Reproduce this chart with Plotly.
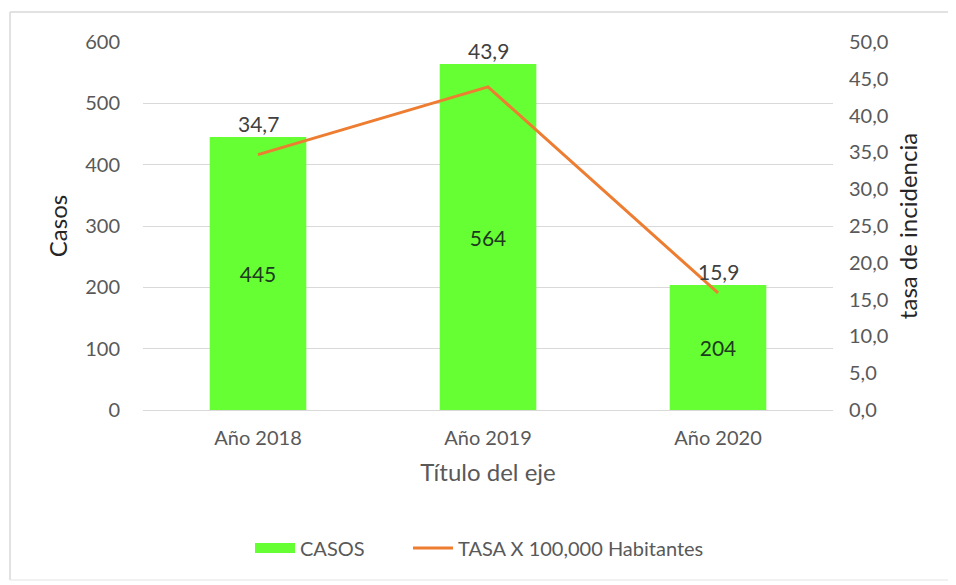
import plotly.graph_objects as go

categorias = ["Año 2018", "Año 2019", "Año 2020"]
casos = [445, 564, 204]
tasa = [34.7, 43.9, 15.9]
left_ticks = [0, 100, 200, 300, 400, 500, 600]
right_ticks = [0, 5, 10, 15, 20, 25, 30, 35, 40, 45, 50]

def fmt(v):
    return f"{v:.1f}".replace(".", ",")

FONT = "Lato, 'Open Sans', sans-serif"
GREY = "#595959"
GREEN = "#66FF33"
ORANGE = "#ED7D31"

fig = go.Figure()
fig.add_trace(go.Bar(
    x=categorias, y=casos, name="CASOS", showlegend=False,
    marker=dict(color=GREEN, line=dict(width=0)),
    width=0.42,
    text=[str(c) for c in casos], textposition="inside", insidetextanchor="middle",
    textfont=dict(size=21, color="#1e3a1e", family=FONT),
    yaxis="y",
))
# legend swatch for the bars (wide block, like the original)
fig.add_trace(go.Scatter(
    x=[categorias[0]], y=[None], name="CASOS", mode="lines",
    line=dict(color=GREEN, width=12), yaxis="y", hoverinfo="skip",
    legend="legend",
))
fig.add_trace(go.Scatter(
    x=categorias, y=tasa, name="TASA X 100,000 Habitantes",
    mode="lines", line=dict(color=ORANGE, width=3),
    yaxis="y2", legend="legend2",
))

for c, v, t in zip(categorias, casos, tasa):
    fig.add_annotation(x=c, y=v, xref="x", yref="y", text=fmt(t),
                       showarrow=False, yanchor="bottom", yshift=-1,
                       font=dict(size=21, color="#404040", family=FONT))

# page body has an 8px margin: figure coords = screen coords - 8
OFF = 8
W, H = 956 - OFF, 585 - OFF
L, T = 143 - OFF, 42 - OFF
R = W - (833 - OFF)
B = H - (410 - OFF)
pw, ph = W - L - R, H - T - B
def px(x): return ((x - OFF) - L) / pw
def py(y): return (H - B - (y - OFF)) / ph

border = dict(color="#d9d9d9", width=1.5)
fig.add_shape(type="line", xref="paper", yref="paper", x0=px(10), x1=px(1000), y0=py(12), y1=py(12), line=border, layer="below")
fig.add_shape(type="line", xref="paper", yref="paper", x0=px(10), x1=px(10), y0=py(12), y1=py(580), line=border, layer="below")
fig.add_shape(type="line", xref="paper", yref="paper", x0=px(10), x1=px(1000), y0=py(580), y1=py(580), line=dict(color="#ececec", width=1.5), layer="below")

leg_common = dict(orientation="h", y=py(548), yanchor="middle", xanchor="left",
                  font=dict(size=20, color=GREY), itemwidth=40, bgcolor="rgba(0,0,0,0)")

fig.update_layout(
    width=W, height=H,
    margin=dict(l=L, r=R, t=T, b=B),
    paper_bgcolor="white", plot_bgcolor="white",
    font=dict(family=FONT, color=GREY, size=20),
    showlegend=True,
    legend=dict(x=px(250), **leg_common),
    legend2=dict(x=px(408), **leg_common),
    xaxis=dict(showgrid=False, showline=True, linecolor="#d9d9d9", linewidth=1,
               ticks="", tickfont=dict(size=20, color=GREY), ticklabelstandoff=10,
               title=dict(text="Título del eje", font=dict(size=24, color=GREY), standoff=16)),
    yaxis=dict(range=[0, 600], tickvals=left_ticks, ticktext=[str(t) for t in left_ticks],
               showgrid=True, gridcolor="#d9d9d9", gridwidth=1, zeroline=False,
               showline=False, ticks="", ticklen=0, ticklabelstandoff=22,
               tickfont=dict(size=20, color=GREY),
               title=dict(text="Casos", font=dict(size=24, color="#262626"), standoff=10)),
    yaxis2=dict(range=[0, 50], overlaying="y", side="right",
                tickvals=right_ticks, ticktext=[fmt(t) for t in right_ticks],
                showgrid=False, zeroline=False, showline=False, ticks="",
                ticklabelstandoff=15,
                tickfont=dict(size=20, color=GREY),
                title=dict(text="tasa de incidencia", font=dict(size=24, color="#262626"), standoff=12)),
)

fig.write_html("out.html")
